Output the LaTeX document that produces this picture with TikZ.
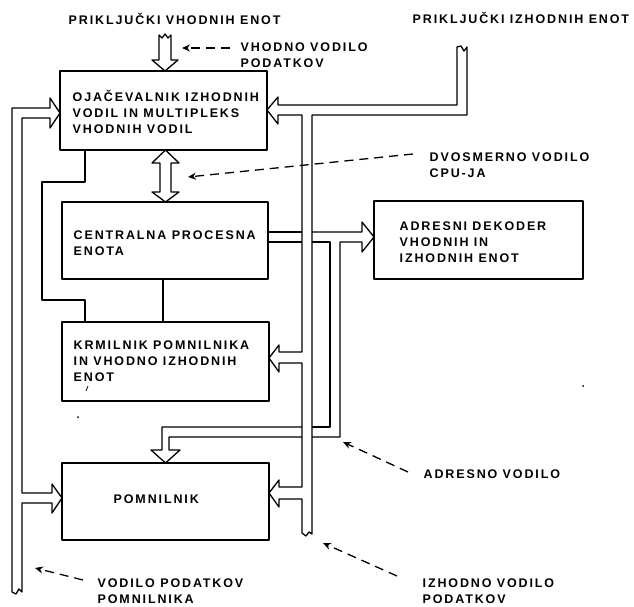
\documentclass[tikz,border=0pt]{standalone}
\usepackage{fontspec}
\setmainfont{Liberation Sans}[LetterSpace=15]
\usetikzlibrary{arrows.meta}
\begin{document}
\begin{tikzpicture}[x=1pt,y=-1pt,line width=1.3pt,line join=round,
  box/.style={draw,inner sep=0pt,outer sep=0pt,anchor=north west},
  lbl/.style={anchor=base west,inner sep=0pt,align=left,font=\fontsize{12.5}{16}\selectfont\bfseries},
  pointer/.style={dash pattern=on 9pt off 6pt,-{Stealth[length=8pt,width=7pt]}}]
\useasboundingbox (0,0) rectangle (634,607);
% boxes
\node[box,minimum width=207pt,minimum height=79pt] (b1) at (60,71) {};
\node[box,minimum width=206pt,minimum height=77pt] (b2) at (62,202) {};
\node[box,minimum width=207pt,minimum height=79pt] (b3) at (62,322) {};
\node[box,minimum width=207pt,minimum height=77pt] (b4) at (62,463) {};
\node[box,minimum width=209pt,minimum height=78pt] (b5) at (374,201) {};
% texts (anchor = baseline of last line)
\node[lbl] (t1) at (72,133) {OJAČEVALNIK IZHODNIH\\VODIL IN MULTIPLEKS\\VHODNIH VODIL};
\node[lbl] (t2) at (73,255) {CENTRALNA PROCESNA\\ENOTA};
\node[lbl] (t3) at (73,381) {KRMILNIK POMNILNIKA\\IN VHODNO IZHODNIH\\ENOT};
\node[lbl] (t4) at (113,503) {POMNILNIK};
\node[lbl] (t5) at (399,262) {ADRESNI DEKODER\\VHODNIH IN\\IZHODNIH ENOT};
\node[lbl] (l1) at (68,25) {PRIKLJUČKI VHODNIH ENOT};
\node[lbl] (l2) at (412,24) {PRIKLJUČKI IZHODNIH ENOT};
\node[lbl] (l3) at (240,68) {VHODNO VODILO\\PODATKOV};
\node[lbl] (l4) at (429,177) {DVOSMERNO VODILO\\CPU-JA};
\node[lbl] (l5) at (423,478) {ADRESNO VODILO};
\node[lbl] (l6) at (422,603) {IZHODNO VODILO\\PODATKOV};
\node[lbl] (l7) at (97,603) {VODILO PODATKOV\\POMNILNIKA};
% input bus arrow
\draw (159,35) -- (159,60) -- (152,60) -- (165,71) -- (178,60) -- (171,60) -- (171,35) -- (168,38) -- (165,34) -- (162,38) -- cycle;
% CPU bidirectional bus
\draw (160,163) -- (152,163) -- (165.5,150) -- (179,163) -- (171,163) -- (171,192) -- (179,192) -- (165.5,202) -- (152,192) -- (160,192) -- cycle;
% control lines
\draw (85,150) -- (85,182) -- (42,182) -- (42,300) -- (85,300) -- (85,322);
\draw (163,279) -- (163,322);
% memory data bus (left)
\draw (12,592) -- (12,108) -- (50,108) -- (50,98) -- (60,113) -- (50,128) -- (50,118) -- (22,118)
  -- (22,493) -- (52,493) -- (52,484) -- (62,498) -- (52,513) -- (52,503) -- (22,503) -- (22,592)
  -- (19,589) -- (16,594) -- cycle;
% output data bus
\draw (457,47) -- (457,105) -- (278,105) -- (278,97) -- (267,110) -- (278,124) -- (278,115) -- (302,115)
  -- (302,352) -- (279,352) -- (279,345) -- (269,358) -- (279,372) -- (279,363) -- (302,363)
  -- (302,487) -- (279,487) -- (279,480) -- (269,493) -- (279,507) -- (279,499) -- (302,499)
  -- (302,533) -- (306,536) -- (309,532) -- (312,534) -- (312,115) -- (467,115) -- (467,47)
  -- (464,51) -- (461,46) -- cycle;
% address bus
\draw (268,232) -- (302,232);
\draw (312,232) -- (362,232) -- (362,222) -- (374,237) -- (362,252) -- (362,242) -- (340,242) -- (340,437) -- (312,437);
\draw (302,437) -- (169,437) -- (169,450) -- (180,450) -- (165.5,463) -- (151,450) -- (162,450) -- (162,427) -- (302,427);
\draw (312,427) -- (330,427) -- (330,242) -- (312,242);
\draw (302,242) -- (268,242);
% pointers
\draw[pointer] (230,48) -- (182,48);
\draw[pointer] (413,154) -- (188,177);
\draw[pointer] (408,472) -- (343,442);
\draw[pointer] (397,576) -- (323,543);
\draw[pointer] (83,580) -- (35,568);
% specks
\fill (78,417) circle (1pt);
\fill (583,386) circle (1pt);
\draw[line width=0.8pt] (86,391) -- (88,386);
\end{tikzpicture}
\end{document}
